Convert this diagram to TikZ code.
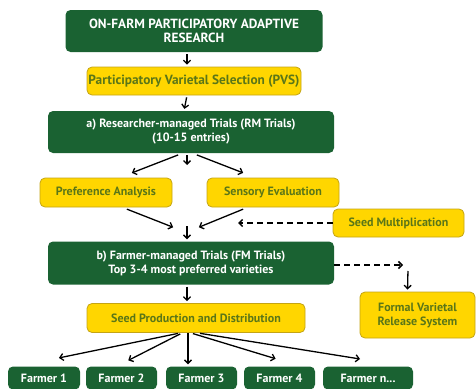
\documentclass[tikz,border=0pt]{standalone}
\usepackage{fontspec}
\setsansfont{PT Sans}
\usetikzlibrary{positioning, arrows.meta, calc}
\definecolor{farmgreen}{RGB}{26,98,50}
\definecolor{farmyellow}{RGB}{255,214,0}
\definecolor{farmolive}{RGB}{196,164,20}
\definecolor{farmtext}{RGB}{90,118,24}

\begin{document}
\begin{tikzpicture}[x=1pt, y=-1pt, >={Straight Barb[length=3.5pt,width=7pt]},
        font=\sffamily\bfseries\fontsize{12}{14}\selectfont,
        greenbox/.style={fill=farmgreen, text=white, rounded corners=5pt, align=center,
          inner sep=0pt},
        yellowbox/.style={fill=farmyellow, draw=farmolive, line width=0.8pt, text=farmtext,
          rounded corners=5pt, align=center, inner sep=0pt},
        bigtext/.style={font=\sffamily\bfseries\fontsize{13.3}{14}\selectfont},
        arr/.style={->, line width=1.3pt, shorten <=2pt, shorten >=2pt},
        dasharr/.style={->, line width=1.5pt, dash pattern=on 6pt off 4pt}]
  \useasboundingbox (0,0) rectangle (476,388);
  % main column
  \node[greenbox, bigtext, minimum width=257pt, minimum height=42pt] (top) at (194,31)
    {ON-FARM PARTICIPATORY ADAPTIVE\\RESEARCH};
  \node[yellowbox, bigtext, minimum width=214pt, minimum height=28pt] (pvs) at (194,81)
    {Participatory Varietal Selection (PVS)};
  \node[greenbox, minimum width=286pt, minimum height=42pt] (rm) at (191,132)
    {a) Researcher-managed Trials (RM Trials)\\(10-15 entries)};
  \node[yellowbox, minimum width=132pt, minimum height=29pt] (pref) at (106,192.5)
    {Preference Analysis};
  \node[yellowbox, minimum width=132pt, minimum height=29pt] (sens) at (273,192.5)
    {Sensory Evaluation};
  \node[yellowbox, minimum width=131pt, minimum height=28pt] (seedmult) at (398.5,223)
    {Seed Multiplication};
  \node[greenbox, minimum width=286pt, minimum height=43pt] (fm) at (191,263)
    {b) Farmer-managed Trials (FM Trials)\\Top 3-4 most preferred varieties};
  \node[yellowbox, minimum width=115pt, minimum height=46pt] (formal) at (417.5,315)
    {Formal Varietal\\Release System};
  \node[yellowbox, minimum width=218pt, minimum height=29pt] (seedprod) at (196,318)
    {Seed Production and Distribution};
  % farmers
  \node[greenbox, minimum width=72pt, minimum height=23pt] (f1) at (44,378) {Farmer 1};
  \node[greenbox, minimum width=71pt, minimum height=23pt] (f2) at (121.5,378) {Farmer 2};
  \node[greenbox, minimum width=71pt, minimum height=23pt] (f3) at (201.5,378) {Farmer 3};
  \node[greenbox, minimum width=71pt, minimum height=23pt] (f4) at (279.5,378) {Farmer 4};
  \node[greenbox, minimum width=90pt, minimum height=23pt] (fn) at (368,378) {Farmer n...};

  \coordinate (split) at (187,155);
  \coordinate (merge) at (187,226);
  \coordinate (smend) at (238,223);
  \coordinate (corner) at (403,265);
  \coordinate (hub) at (188,333);

  \draw[arr] ([xshift=-7pt]top.south) -- ([xshift=-7pt]pvs.north);
  \draw[arr] ([xshift=-7pt]pvs.south) -- ([xshift=-7pt]rm.north);
  \draw[arr, shorten <=0pt] (split) -- ++(0,12);
  \draw[arr] ([shift={(-11pt,-1pt)}]rm.south) -- ([shift={(24pt,4pt)}]pref.north);
  \draw[arr] ([shift={(4pt,-1pt)}]rm.south) -- ([shift={(-28pt,4pt)}]sens.north);
  \draw[arr] ([shift={(19pt,-1pt)}]pref.south) -- ([shift={(-12pt,-2pt)}]merge);
  \draw[arr] ([shift={(-28pt,-1pt)}]sens.south) -- ([shift={(10pt,-2pt)}]merge);
  \draw[arr, shorten <=0pt] (merge) -- (merge |- fm.north);
  \draw[dasharr] (seedmult.west) -- (smend);
  \draw[dasharr] (fm.east |- corner) -- (corner);
  \draw[arr] ([shift={(5pt,-4pt)}]corner) -- ([xshift=-10pt]formal.north);
  \draw[arr] ([xshift=-4pt]fm.south) -- ([xshift=-9pt]seedprod.north);
  % to the farmers
  \draw[arr] ([xshift=-8pt]hub) -- ([shift={(13pt,8pt)}]f1.north);
  \draw[arr] ([xshift=-6pt]hub) -- ([shift={(5pt,5pt)}]f2.north);
  \draw[arr, shorten <=0pt] (hub) -- (hub |- f3.north);
  \draw[arr] ([xshift=3pt]hub) -- ([shift={(-2pt,7pt)}]f4.north);
  \draw[arr] ([xshift=10pt]hub) -- ([shift={(-6pt,7pt)}]fn.north);
\end{tikzpicture}
\end{document}
